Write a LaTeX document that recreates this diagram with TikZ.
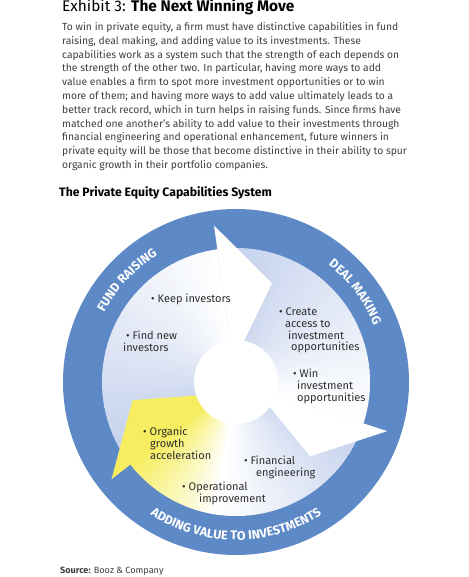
\documentclass[tikz,border=0pt]{standalone}
\usepackage{fontspec}
\setmainfont{Fira Sans}
\usetikzlibrary{decorations.text}
\definecolor{ringblue}{HTML}{5E89C7}
\definecolor{paleblue}{HTML}{C3D0EC}
\definecolor{growyellow}{HTML}{F6EE60}
\definecolor{bodygray}{HTML}{3E3E3E}
\definecolor{labelgray}{HTML}{2E2E2E}

\tikzset{
  point/.style={font=\fontsize{11}{11.6}\selectfont,text=labelgray,align=left,inner sep=0pt,anchor=base west},
  ringlabel/.style={decorate,decoration={text along path,text align=center,text color=white,text={|\fontsize{12.5}{12.5}\selectfont\bfseries|#1}}}
}

\begin{document}
\begin{tikzpicture}[x=1pt,y=1pt]
\useasboundingbox (0,0) rectangle (468,577);
% header text (base = last line)
\node[anchor=base west,inner sep=0pt] (title) at (62,565) {\fontsize{15.4}{18}\selectfont Exhibit 3: \textbf{The Next Winning Move}};
\node[anchor=base west,inner sep=0pt,align=left,text=bodygray,font=\fontsize{10.3}{13.76}\selectfont] (intro) at (62,408.7) {To win in private equity, a firm must have distinctive capabilities in fund\\
raising, deal making, and adding value to its investments. These\\
capabilities work as a system such that the strength of each depends on\\
the strength of the other two. In particular, having more ways to add\\
value enables a firm to spot more investment opportunities or to win\\
more of them; and having more ways to add value ultimately leads to a\\
better track record, which in turn helps in raising funds. Since firms have\\
matched one another's ability to add value to their investments through\\
financial engineering and operational enhancement, future winners in\\
private equity will be those that become distinctive in their ability to spur\\
organic growth in their portfolio companies.};
\node[anchor=base west,inner sep=0pt,font=\fontsize{12.2}{14}\selectfont\bfseries] (system) at (59,380.3) {The Private Equity Capabilities System};

\begin{scope}[shift={(236,195)}]
\coordinate (hub) at (0,0);
% outer ring
\fill[ringblue] (hub) circle (173);
% blades: head angle / tail angle / head colour / tail colour
\foreach \h/\t/\hc/\tc in {98/218/white/paleblue,-18/98/white/paleblue,262/342/white/paleblue,218/262/growyellow/white}{
  \foreach \i in {0,...,39}{
    \pgfmathsetmacro\a{\t-(\t-\h)*\i/40}
    \pgfmathsetmacro\b{\t-(\t-\h)*(\i+1)/40-0.6}
    \pgfmathtruncatemacro\p{100*\i/39}
    \fill[\hc!\p!\tc] (hub) -- (\a:134) arc[start angle=\a,end angle=\b,radius=134] -- cycle;
  }
}
% arrow heads
\fill[white] (98:158) -- (70:105) -- (98:19) -- cycle;
\fill[white] (-18:159) -- (-45:105) -- (-18:19) -- cycle;
\fill[growyellow] (218:158) -- (190:105) -- (218:19) -- cycle;
\fill[white] (hub) circle (42);
% ring captions
\path[ringlabel={FUND RAISING}] (167:149) arc[start angle=167,end angle=107,radius=149];
\path[ringlabel={DEAL MAKING}] (67:149) arc[start angle=67,end angle=7,radius=149];
\path[ringlabel={ADDING VALUE TO INVESTMENTS}] (215:158) arc[start angle=215,end angle=325,radius=158];
\end{scope}

% capability points (base = last line)
\node[point] (keep) at (151,274) {\textbullet\ Keep investors};
\node[point] (find) at (123,225.4) {\hspace*{3pt}\textbullet\ Find new\\investors};
\node[point] (create) at (279,226.2) {\textbullet\ Create\\\hspace*{6pt}access to\\\hspace*{9pt}investment\\\hspace*{12pt}opportunities};
\node[point] (win) at (293,175.8) {\textbullet\ Win\\\hspace*{4pt}investment\\\hspace*{4pt}opportunities};
\node[point] (organic) at (143,117.8) {\textbullet\ Organic\\\hspace*{7pt}growth\\\hspace*{7pt}acceleration};
\node[point] (financial) at (244,100.4) {\textbullet\ Financial\\\hspace*{12pt}engineering};
\node[point] (operational) at (182,74.4) {\textbullet\ Operational\\\hspace*{17pt}improvement};

\node[anchor=base west,inner sep=0pt,text=bodygray,font=\fontsize{9.1}{11}\selectfont] (source) at (60,4) {\textbf{Source:} Booz \& Company};
\end{tikzpicture}
\end{document}
